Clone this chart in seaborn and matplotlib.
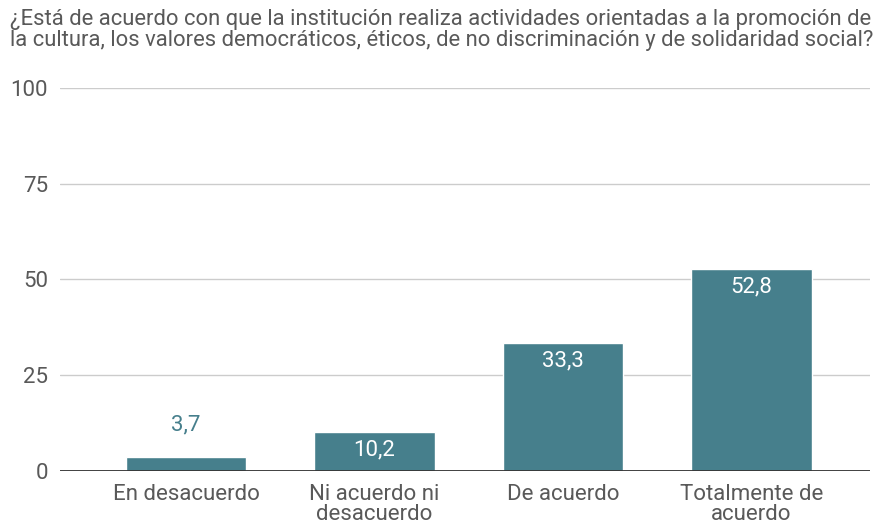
import matplotlib
matplotlib.use("Agg")
import matplotlib.pyplot as plt
import seaborn as sns
import pandas as pd

categories = ["En desacuerdo", "Ni acuerdo ni\ndesacuerdo", "De acuerdo", "Totalmente de\nacuerdo"]
values = [3.7, 10.2, 33.3, 52.8]
yticks = [0, 25, 50, 75, 100]
title = ("¿Está de acuerdo con que la institución realiza actividades orientadas a la promoción de\n"
         "la cultura, los valores democráticos, éticos, de no discriminación y de solidaridad social?")

sns.set_theme(style="white")
plt.rcParams['font.family'] = ['Roboto', 'DejaVu Sans']

bar_color = "#467f8c"
grey = "#595959"

df = pd.DataFrame({"cat": categories, "val": values})

fig = plt.figure(figsize=(8.8, 5.23), dpi=100)
ax = fig.add_axes([0.068, 0.0994, 0.921, 0.7326])
sns.barplot(data=df, x="cat", y="val", color=bar_color, width=0.64, saturation=1, ax=ax)

ax.set_ylim(0, 100)
ax.set_xlim(-0.67, 3.63)
ax.set_yticks(yticks)
ax.set_yticklabels([str(t) for t in yticks])
ax.yaxis.grid(True, color="#cccccc", linewidth=1)
ax.set_axisbelow(True)
ax.axhline(0, color="#333333", linewidth=1.3, zorder=3)
for s in ax.spines.values():
    s.set_visible(False)
ax.set_xlabel("")
ax.set_ylabel("")
ax.tick_params(axis="both", length=0, labelsize=16, labelcolor=grey)
ax.tick_params(axis="x", pad=9)
ax.tick_params(axis="y", pad=8.5)
for lbl in ax.get_xticklabels():
    lbl.set_linespacing(0.95)

px = 100 / (0.7326 * 523)  # data units per pixel
for i, v in enumerate(values):
    txt = f"{v:.1f}".replace(".", ",")
    if v < 8:
        ax.text(i, v + 32 * px, txt, ha="center", va="center", color=bar_color, fontsize=16)
    else:
        ax.text(i, v - 18 * px, txt, ha="center", va="center", color="white", fontsize=16)

fig.text(0.011, 0.983, title, ha="left", va="top", fontsize=15.8, color=grey, linespacing=0.98)

fig.savefig("out.png", dpi=100, facecolor="white")
